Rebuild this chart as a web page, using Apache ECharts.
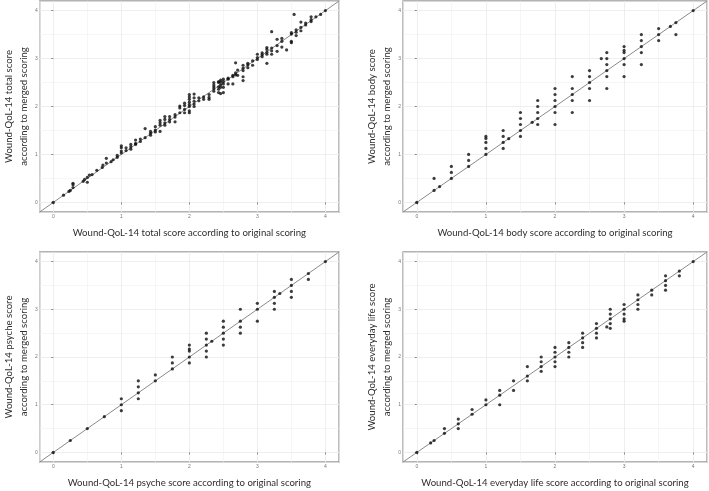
<!DOCTYPE html>
<html>
<head>
<meta charset="utf-8">
<script src="https://cdn.jsdelivr.net/npm/echarts@6/dist/echarts.min.js"></script>
<style>
  html, body { margin: 0; padding: 0; background: #fff; }
  #main { width: 709px; height: 491px; }
</style>
</head>
<body>
<div id="main"></div>
<script>
// every panel: 0..4 with ggplot's 5% expansion
var axisMin = -0.2;
var axisMax = 4.2;
var tickValues = [0, 1, 2, 3, 4];

var xTitles = [
  'Wound-QoL-14 total score according to original scoring',
  'Wound-QoL-14 body score according to original scoring',
  'Wound-QoL-14 psyche score according to original scoring',
  'Wound-QoL-14 everyday life score according to original scoring'
];
var yTitles = [
  'Wound-QoL-14 total score\naccording to merged scoring',
  'Wound-QoL-14 body score\naccording to merged scoring',
  'Wound-QoL-14 psyche score\naccording to merged scoring',
  'Wound-QoL-14 everyday life score\naccording to merged scoring'
];

// [original, merged]
var totalPoints = [
  [0, 0], [0.15, 0.15], [0.23, 0.23], [0.25, 0.25], [0.29, 0.31], [0.29, 0.37], [0.29, 0.4],
  [0.44, 0.44], [0.46, 0.48], [0.5, 0.52], [0.5, 0.42], [0.53, 0.57], [0.57, 0.58], [0.64, 0.67],
  [0.72, 0.73], [0.73, 0.78], [0.78, 0.82], [0.78, 0.92], [0.85, 0.85], [0.88, 0.89], [0.94, 0.94],
  [0.94, 0.98],
  [1, 1.18], [1, 1.14], [1, 1.07], [1, 1.03], [1.07, 1.14], [1.07, 1.08], [1.14, 1.21], [1.14, 1.16],
  [1.14, 1.11], [1.21, 1.3], [1.21, 1.23], [1.21, 1.21], [1.28, 1.32], [1.28, 1.27], [1.35, 1.54],
  [1.35, 1.35], [1.43, 1.48], [1.43, 1.44], [1.43, 1.4], [1.5, 1.51], [1.5, 1.47], [1.5, 1.58],
  [1.57, 1.71], [1.57, 1.66], [1.57, 1.61], [1.57, 1.48], [1.64, 1.79], [1.64, 1.73], [1.64, 1.66],
  [1.64, 1.61], [1.71, 1.79], [1.71, 1.73], [1.71, 1.68], [1.79, 1.83], [1.79, 1.78], [1.79, 1.68],
  [1.86, 2.01], [1.86, 1.97], [1.86, 1.87], [1.93, 2.07], [1.93, 2.02], [1.93, 1.94], [1.93, 1.87],
  [2, 1.87], [2, 1.91], [2, 2.0], [2, 2.04], [2, 2.09], [2, 2.15], [2, 2.2], [2, 2.25],
  [2.07, 2.0], [2.07, 2.05], [2.07, 2.11], [2.07, 2.18], [2.07, 2.26], [2.14, 2.12], [2.14, 2.18],
  [2.21, 2.15], [2.21, 2.2], [2.29, 2.15], [2.29, 2.25], [2.29, 2.19], [2.36, 2.32], [2.36, 2.37],
  [2.36, 2.41], [2.36, 2.45], [2.36, 2.5], [2.43, 2.29], [2.43, 2.36], [2.43, 2.41], [2.43, 2.5],
  [2.43, 2.52], [2.46, 2.27], [2.46, 2.4], [2.46, 2.45], [2.46, 2.51], [2.46, 2.55], [2.5, 2.29],
  [2.5, 2.4], [2.5, 2.47], [2.5, 2.52], [2.5, 2.57], [2.57, 2.47], [2.57, 2.57], [2.57, 2.59],
  [2.64, 2.47], [2.64, 2.62], [2.64, 2.65], [2.68, 2.91], [2.68, 2.66], [2.68, 2.7], [2.71, 2.65],
  [2.71, 2.76], [2.79, 2.54], [2.79, 2.62], [2.79, 2.75], [2.79, 2.8], [2.79, 2.86], [2.86, 2.81],
  [2.86, 2.87], [2.86, 2.9], [2.93, 2.86], [2.93, 2.95],
  [3, 2.98], [3, 3.02], [3, 3.09], [3.07, 3.04], [3.07, 3.08], [3.07, 3.12], [3.14, 3.09],
  [3.14, 3.13], [3.14, 2.9], [3.14, 3.19], [3.14, 3.23], [3.21, 3.09], [3.21, 3.16], [3.21, 3.22],
  [3.21, 3.56], [3.29, 3.15], [3.29, 3.27], [3.29, 3.4], [3.36, 3.24], [3.36, 3.36], [3.36, 3.42],
  [3.43, 3.18], [3.5, 3.33], [3.5, 3.36], [3.5, 3.51], [3.5, 3.54], [3.54, 3.92], [3.57, 3.48],
  [3.57, 3.55], [3.57, 3.6], [3.64, 3.58], [3.64, 3.65], [3.64, 3.76], [3.71, 3.7], [3.71, 3.74],
  [3.79, 3.77], [3.79, 3.81], [3.79, 3.87], [3.86, 3.87], [3.93, 3.92], [4, 4]
];

var bodyPoints = [
  [0, 0], [0.25, 0.5], [0.25, 0.25], [0.33, 0.33], [0.5, 0.75], [0.5, 0.625], [0.5, 0.5],
  [0.75, 1], [0.75, 0.875], [0.75, 0.75],
  [1, 1.375], [1, 1.333], [1, 1.25], [1, 1.125], [1, 1],
  [1.25, 1.5], [1.25, 1.375], [1.25, 1.25], [1.25, 1.125], [1.33, 1.33],
  [1.5, 1.875], [1.5, 1.75], [1.5, 1.625], [1.5, 1.5], [1.5, 1.375], [1.67, 1.67],
  [1.75, 2.125], [1.75, 2], [1.75, 1.875], [1.75, 1.75], [1.75, 1.625],
  [2, 2.375], [2, 2.25], [2, 2.125], [2, 2], [2, 1.875], [2, 1.625],
  [2.25, 2.625], [2.25, 2.375], [2.25, 2.25], [2.25, 2.125], [2.25, 1.875],
  [2.5, 2.75], [2.5, 2.625], [2.5, 2.5], [2.5, 2.375], [2.5, 2.125], [2.67, 3],
  [2.75, 3.125], [2.75, 3], [2.75, 2.875], [2.75, 2.75], [2.75, 2.625], [2.75, 2.375],
  [3, 3.25], [3, 3.17], [3, 3.125], [3, 3], [3, 2.875], [3, 2.625],
  [3.25, 3.5], [3.25, 3.375], [3.25, 3.25], [3.25, 3.125], [3.25, 2.875],
  [3.5, 3.625], [3.5, 3.5], [3.5, 3.375], [3.67, 3.67], [3.75, 3.75], [3.75, 3.5], [4, 4]
];

var psychePoints = [
  [0, 0], [0.25, 0.25], [0.5, 0.5], [0.75, 0.75],
  [1, 1.125], [1, 1], [1, 0.875],
  [1.25, 1.5], [1.25, 1.375], [1.25, 1.25], [1.25, 1.125], [1.5, 1.625], [1.5, 1.5],
  [1.75, 2], [1.75, 1.875], [1.75, 1.75],
  [2, 2.25], [2, 2.167], [2, 2.125], [2, 2], [2, 1.875],
  [2.25, 2.5], [2.25, 2.375], [2.25, 2.25], [2.25, 2.125], [2.25, 2], [2.33, 2.33],
  [2.5, 2.75], [2.5, 2.625], [2.5, 2.5], [2.5, 2.375], [2.5, 2.25],
  [2.75, 3], [2.75, 2.75], [2.75, 2.625], [2.75, 2.5],
  [3, 3.125], [3, 3], [3, 2.75],
  [3.25, 3.375], [3.25, 3.25], [3.25, 3.125], [3.25, 3], [3.33, 3.33],
  [3.5, 3.625], [3.5, 3.5], [3.5, 3.375], [3.5, 3.25], [3.75, 3.75], [3.75, 3.625], [4, 4]
];

var lifePoints = [
  [0, 0], [0.2, 0.2], [0.25, 0.25], [0.4, 0.5], [0.4, 0.4], [0.6, 0.7], [0.6, 0.6], [0.6, 0.5],
  [0.8, 0.9], [0.8, 0.8], [1, 1.1], [1, 1], [1.2, 1.3], [1.2, 1.2], [1.2, 1],
  [1.4, 1.5], [1.4, 1.3], [1.6, 1.8], [1.6, 1.6], [1.6, 1.5],
  [1.8, 2], [1.8, 1.9], [1.8, 1.8], [1.8, 1.7],
  [2, 2.2], [2, 2.1], [2, 2], [2, 1.9], [2, 1.8],
  [2.2, 2.3], [2.2, 2.2], [2.2, 2.1], [2.2, 2],
  [2.4, 2.5], [2.4, 2.4], [2.4, 2.3], [2.4, 2.2],
  [2.6, 2.7], [2.6, 2.6], [2.6, 2.5], [2.6, 2.4], [2.75, 2.63],
  [2.8, 3], [2.8, 2.9], [2.8, 2.8], [2.8, 2.7], [2.8, 2.6],
  [3, 3.1], [3, 3], [3, 2.9], [3, 2.8], [3, 2.75],
  [3.2, 3.3], [3.2, 3.2], [3.2, 3.1], [3.2, 3],
  [3.4, 3.4], [3.4, 3.3], [3.6, 3.7], [3.6, 3.6], [3.6, 3.5], [3.6, 3.4],
  [3.8, 3.8], [3.8, 3.7], [4, 4]
];

var panelPoints = [totalPoints, bodyPoints, psychePoints, lifePoints];

var grids = [
  {left: 34, top: 1, width: 305, height: 211},
  {left: 403, top: 1, width: 304, height: 211},
  {left: 34, top: 252, width: 305, height: 214},
  {left: 403, top: 252, width: 304, height: 214}
];
var yNameGaps = [5, 9, 5, 9];

var titleFont = {fontFamily: 'Lato', fontSize: 9.6, color: '#2e2e2e', lineHeight: 15};

function intLabel(v) {
  return Math.abs(v - Math.round(v)) < 1e-9 ? String(Math.round(v)) : '';
}

var xAxes = [], yAxes = [], series = [];

grids.forEach(function (g, i) {
  g.show = true;
  g.borderColor = '#9a9a9a';
  g.borderWidth = 1.3;
  g.backgroundColor = '#fff';

  // main axes: labels, ticks, major grid
  xAxes.push({
    type: 'value', gridIndex: i, min: axisMin, max: axisMax, splitNumber: 5,
    axisLine: {show: false},
    axisTick: {show: true, length: 2, customValues: tickValues, lineStyle: {color: '#888'}},
    axisLabel: {fontSize: 5, color: '#777', margin: 2, customValues: tickValues,
      formatter: intLabel, fontFamily: 'Liberation Sans'},
    splitLine: {show: true, lineStyle: {color: '#e4e4e4', width: 0.8}},
    name: xTitles[i], nameLocation: 'middle', nameGap: 13, nameTextStyle: titleFont
  });
  yAxes.push({
    type: 'value', gridIndex: i, min: axisMin, max: axisMax, splitNumber: 5,
    axisLine: {show: false},
    axisTick: {show: true, length: 2, customValues: tickValues, lineStyle: {color: '#888'}},
    axisLabel: {fontSize: 5, color: '#777', margin: 2, customValues: tickValues,
      formatter: intLabel, fontFamily: 'Liberation Sans'},
    splitLine: {show: true, lineStyle: {color: '#e4e4e4', width: 0.8}},
    name: yTitles[i], nameLocation: 'middle', nameGap: yNameGaps[i], nameRotate: 90,
    nameTextStyle: titleFont
  });
  // minor grid at every 0.5
  xAxes.push({
    type: 'value', gridIndex: i, min: axisMin, max: axisMax, splitNumber: 9,
    axisLine: {show: false}, axisTick: {show: false}, axisLabel: {show: false},
    splitLine: {show: true, lineStyle: {color: '#f0f0f0', width: 0.6}}
  });
  yAxes.push({
    type: 'value', gridIndex: i, min: axisMin, max: axisMax, splitNumber: 9,
    axisLine: {show: false}, axisTick: {show: false}, axisLabel: {show: false},
    splitLine: {show: true, lineStyle: {color: '#f0f0f0', width: 0.6}}
  });

  series.push({
    type: 'line', xAxisIndex: i * 2, yAxisIndex: i * 2,
    data: [[axisMin, axisMin], [axisMax, axisMax]],
    symbol: 'none', silent: true, z: 2,
    lineStyle: {color: '#8a8a8a', width: 1}
  });
  series.push({
    type: 'scatter', xAxisIndex: i * 2, yAxisIndex: i * 2,
    data: panelPoints[i],
    symbol: 'circle', symbolSize: 3.2, z: 3,
    itemStyle: {color: '#0d0d0d'}
  });
});

var chart = echarts.init(document.getElementById('main'));
chart.setOption({
  animation: false,
  backgroundColor: '#fff',
  grid: grids,
  xAxis: xAxes,
  yAxis: yAxes,
  series: series
});
</script>
</body>
</html>
